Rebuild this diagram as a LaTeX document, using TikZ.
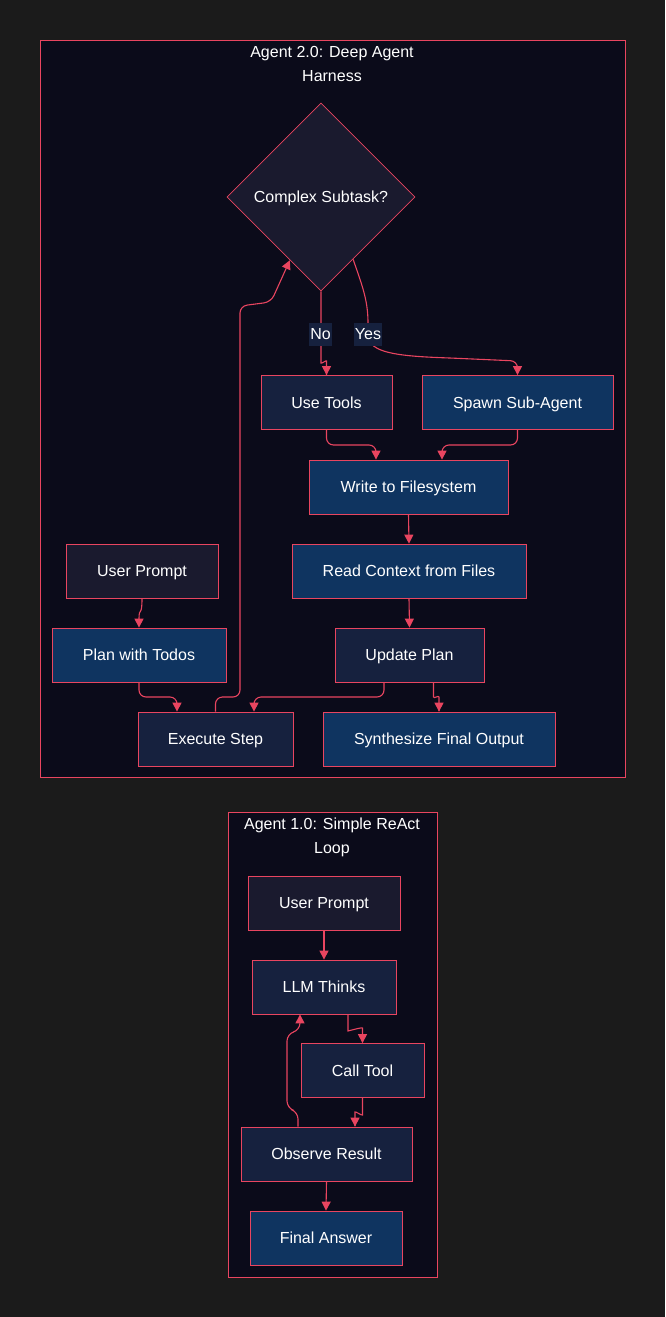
\documentclass[tikz,border=0pt]{standalone}
\usepackage{fontspec}
\setmainfont{Liberation Sans}
\usetikzlibrary{shapes.geometric,arrows.meta,calc}
\definecolor{bgc}{HTML}{1B1B1B}
\definecolor{clus}{HTML}{0B0B1A}
\definecolor{dk}{HTML}{1A1A2E}
\definecolor{mid}{HTML}{16213E}
\definecolor{blu}{HTML}{0F3460}
\definecolor{acc}{HTML}{E94560}
\definecolor{txt}{HTML}{FFFFFF}
\begin{document}
\begin{tikzpicture}[x=1pt,y=-1pt,
  box/.style={draw=acc, line width=0.8pt, text=txt, font=\fontsize{16}{19}\selectfont, inner sep=0pt, minimum height=54pt, text height=11.5pt, text depth=0pt},
  dkbox/.style={box, fill=dk},
  midbox/.style={box, fill=mid},
  blubox/.style={box, fill=blu},
  cluster/.style={draw=acc, line width=0.9pt, fill=clus},
  ctitle/.style={text=txt, font=\fontsize{16}{24}\selectfont, align=center, inner sep=0pt},
  edge/.style={draw=acc, line width=1.1pt, rounded corners=7pt, -{Triangle[length=9pt,width=9pt]}},
  lbl/.style={fill=mid, text=txt, font=\fontsize{16}{19}\selectfont, inner xsep=1pt, inner ysep=0pt, minimum height=23pt, text height=11.5pt, text depth=0pt}
]
% background and bounding box
\fill[bgc] (0,0) rectangle (665,1317);
\useasboundingbox (0,0) rectangle (665,1317);

% clusters
\draw[cluster] (40,40) rectangle (625,777);
\node[ctitle] (t2) at (332,64) {Agent 2.0: Deep Agent\\Harness};
\draw[cluster] (228,812) rectangle (437,1277);
\node[ctitle] (t1) at (332,837) {Agent 1.0: Simple ReAct\\Loop};

% cluster 2.0 nodes
\node[diamond, aspect=1, draw=acc, line width=0.8pt, fill=dk, text=txt, font=\fontsize{16}{19}\selectfont, minimum width=188pt, minimum height=188pt, inner sep=0pt, text height=11.5pt, text depth=0pt] (dec) at (321,197) {Complex Subtask?};
\node[midbox, minimum width=131pt] (ut) at (326.5,402.5) {Use Tools};
\node[blubox, minimum width=191pt] (sp) at (517.5,402.5) {Spawn Sub-Agent};
\node[blubox, minimum width=199pt] (wf) at (408.5,487) {Write to Filesystem};
\node[blubox, minimum width=234pt] (rc) at (409,571) {Read Context from Files};
\node[midbox, minimum width=149pt] (upl) at (409.5,655) {Update Plan};
\node[blubox, minimum width=232pt] (syn) at (439,739) {Synthesize Final Output};
\node[dkbox, minimum width=152pt] (up1) at (142,571) {User Prompt};
\node[blubox, minimum width=174pt] (plan) at (139,655) {Plan with Todos};
\node[midbox, minimum width=155pt] (exec) at (215.5,739) {Execute Step};

% cluster 1.0 nodes
\node[dkbox, minimum width=152pt] (up2) at (324,903) {User Prompt};
\node[midbox, minimum width=144pt] (llm) at (324,987) {LLM Thinks};
\node[midbox, minimum width=123pt] (ct) at (362.5,1070.5) {Call Tool};
\node[midbox, minimum width=171pt] (obs) at (326.5,1154) {Observe Result};
\node[blubox, minimum width=152pt] (fa) at (326,1238) {Final Answer};

% edges cluster 2.0
\draw[edge] (up1.south) .. controls (142,618) and (139,606) .. (plan.north);
\draw[edge] (plan.south) -- (139,697) -- (177,697) -- ([xshift=-38.5pt]exec.north);
\draw[edge] (exec.north) -- (215.5,697) -- (240,697) -- (240,306) -- (271,302) -- ($(dec.west)!0.67!(dec.south)$);
\draw[edge] (dec.south) -- (321,356) .. controls (321,364) and (326.5,360) .. (326.5,368) -- (ut.north);
\draw[edge] ($(dec.south)!0.34!(dec.east)$) .. controls (362,285) and (368,300) .. (368,330)
   .. controls (370,352) and (395,356) .. (450,358) -- (517.5,361) -- (sp.north);
\draw[edge] (ut.south) -- (326.5,445) -- (376,445) -- ([xshift=-32.5pt]wf.north);
\draw[edge] (sp.south) -- (517.5,445) -- (442,445) -- ([xshift=33.5pt]wf.north);
\draw[edge] (wf.south) -- (rc.north);
\draw[edge] (rc.south) -- (upl.north);
\draw[edge] ([xshift=-25.5pt]upl.south) -- (384,697) -- (254,697) -- ([xshift=38.5pt]exec.north);
\draw[edge] ([xshift=24pt]upl.south) -- (433.5,690) .. controls (433.5,699) and (439,695) .. (439,704) -- (syn.north);

% edge labels
\node[lbl] (lno) at (320.5,334) {No};
\node[lbl] (lyes) at (368,334) {Yes};

% edges cluster 1.0
\draw[edge] (up2.south) -- (llm.north);
\draw[edge] ([xshift=24pt]llm.south) -- (348,1024) .. controls (348,1031) and (362.5,1027) .. (362.5,1035) -- (ct.north);
\draw[edge] (ct.south) -- (362.5,1108) .. controls (362.5,1116) and (355,1111) .. (355,1119) -- ([xshift=28.5pt]obs.north);
\draw[edge] ([xshift=-28.5pt]obs.north) -- (298,1112) -- (287,1108) -- (287,1034) -- (300,1030) -- ([xshift=-24pt]llm.south);
\draw[edge] (obs.south) -- (fa.north);
\end{tikzpicture}
\end{document}
